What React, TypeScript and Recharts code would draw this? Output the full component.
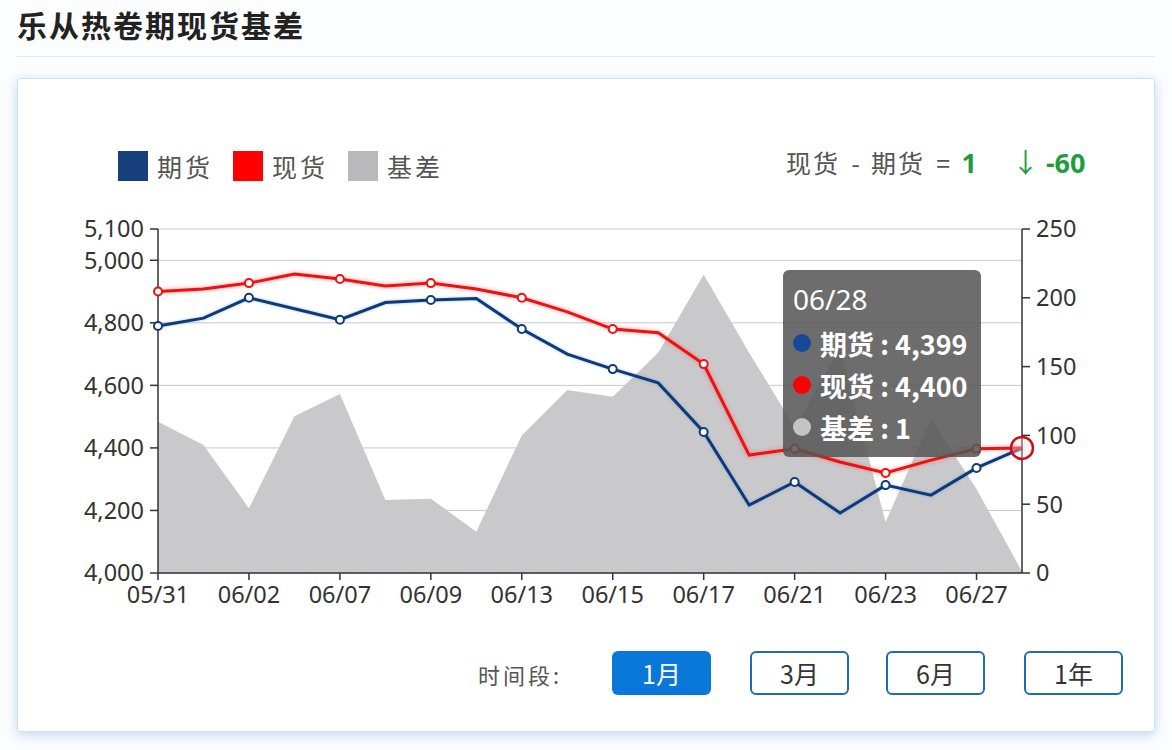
import React from "react";
import {
  ComposedChart,
  Line,
  Area,
  XAxis,
  YAxis,
  CartesianGrid,
  Tooltip,
} from "recharts";

// 2022 trading days, 乐从热卷
const dates = [
  "05/31", "06/01", "06/02", "06/06", "06/07", "06/08", "06/09", "06/10", "06/13", "06/14",
  "06/15", "06/16", "06/17", "06/20", "06/21", "06/22", "06/23", "06/24", "06/27", "06/28",
];
const futures = [
  4790, 4815, 4880, 4845, 4810, 4865, 4873, 4878, 4780, 4700,
  4652, 4608, 4451, 4217, 4291, 4192, 4281, 4249, 4336, 4399,
];
const spot = [
  4900, 4908, 4927, 4956, 4940, 4918, 4927, 4908, 4880, 4835,
  4780, 4768, 4668, 4377, 4397, 4355, 4320, 4361, 4397, 4400,
];
const basis = [
  110, 93, 47, 114, 130, 53, 54, 30, 100, 133,
  128, 160, 217, 160, 106, 163, 37, 112, 61, 1,
];
const leftTicks = [4000, 4200, 4400, 4600, 4800, 5000, 5100];
const rightTicks = [0, 50, 100, 150, 200, 250];
const periods = ["1月", "3月", "6月", "1年"];

const BLUE = "#0f3a78";
const RED = "#ee1111";
const GRAY = "#c9c9cb";
const GREEN = "#1e9c3e";
const CJK = "'Noto Sans CJK SC', 'Noto Sans', sans-serif";
const NUM = "'Noto Sans', 'Noto Sans CJK SC', sans-serif";

const data = dates.map((d, i) => ({
  date: d,
  futures: futures[i],
  spot: spot[i],
  basis: basis[i],
}));

const fmt = (v: number) => v.toLocaleString("en-US");

const makeDot = (color: string) => (props: any) => {
  const { cx, cy, index } = props;
  if (index % 2 !== 0 || index === dates.length - 1) return <g key={`d-${index}`} />;
  return (
    <circle
      key={`d-${index}`}
      cx={cx}
      cy={cy}
      r={4}
      fill="#fff"
      stroke={color}
      strokeWidth={2}
    />
  );
};

const TipContent = ({ active, payload, label }: any) => {
  if (!active || !payload || !payload.length) return null;
  const get = (k: string) => payload.find((p: any) => p.dataKey === k)?.value;
  const rows = [
    { name: "期货", color: "#174a96", value: get("futures") },
    { name: "现货", color: "#ff0000", value: get("spot") },
    { name: "基差", color: "#c4c4c4", value: get("basis") },
  ];
  return (
    <div
      style={{
        width: 198,
        height: 187,
        boxSizing: "border-box",
        background: "rgba(85,85,85,0.86)",
        borderRadius: 6,
        padding: "12px 0 0 10px",
        color: "#fff",
        fontFamily: NUM,
      }}
    >
      <div style={{ fontSize: 28, lineHeight: "34px", marginBottom: 6 }}>{label}</div>
      {rows.map((r) => (
        <div
          key={r.name}
          style={{ display: "flex", alignItems: "center", height: 42 }}
        >
          <span
            style={{
              width: 18,
              height: 18,
              borderRadius: 9,
              background: r.color,
              marginRight: 9,
            }}
          />
          <span style={{ fontSize: 27, fontWeight: 700, fontFamily: CJK }}>
            {r.name} : {fmt(r.value)}
          </span>
        </div>
      ))}
    </div>
  );
};

export default function App() {
  const tickStyle = { fontSize: 23.5, fill: "#333", fontFamily: NUM };
  return (
    <div
      style={{
        position: "absolute",
        left: 0,
        top: 0,
        width: 1172,
        height: 750,
        background: "#fcfdfe",
        overflow: "hidden",
        fontFamily: CJK,
      }}
    >
      <style>{`.spot-line path.recharts-curve{filter:drop-shadow(0 0 2px rgba(255,60,60,0.55));}
.fut-line path.recharts-curve{filter:drop-shadow(0 0 1.5px rgba(80,140,220,0.5));}`}</style>
      <div
        style={{
          position: "absolute",
          left: 17,
          top: 2,
          fontSize: 30,
          fontWeight: 700,
          color: "#222",
          letterSpacing: 2,
        }}
      >
        乐从热卷期现货基差
      </div>
      <div
        style={{
          position: "absolute",
          left: 17,
          top: 56,
          width: 1138,
          height: 1,
          background: "#e6ebf1",
        }}
      />
      <div
        style={{
          position: "absolute",
          left: 17,
          top: 78,
          width: 1136,
          height: 652,
          background: "#fff",
          border: "1px solid #cfe1f4",
          borderRadius: 3,
          boxShadow: "0 3px 12px rgba(120,170,225,0.45)",
        }}
      />

      {/* legend */}
      <div
        style={{
          position: "absolute",
          left: 118,
          top: 148,
          display: "flex",
          alignItems: "center",
          fontSize: 25,
          color: "#555",
        }}
      >
        {[
          { n: "期货", c: "#173f7c" },
          { n: "现货", c: "#ff0000" },
          { n: "基差", c: "#b9b9bb" },
        ].map((l) => (
          <div key={l.n} style={{ display: "flex", alignItems: "center", marginRight: 20 }}>
            <span style={{ width: 30, height: 30, background: l.c, marginRight: 9 }} />
            <span style={{ letterSpacing: 3 }}>{l.n}</span>
          </div>
        ))}
      </div>
      <div
        style={{
          position: "absolute",
          left: 786,
          top: 143,
          fontSize: 25,
          color: "#555",
          whiteSpace: "pre",
          lineHeight: "38px",
        }}
      >
        <span style={{ letterSpacing: 2 }}>现货</span>
        {"  -  "}
        <span style={{ letterSpacing: 2 }}>期货</span>
        {"  =  "}
        <span style={{ color: GREEN, fontWeight: 700, fontFamily: NUM, fontSize: 27 }}>
          {fmt(basis[19])}
        </span>
        <span style={{ color: GREEN, fontFamily: NUM, fontSize: 27 }}>{"     ↓ "}</span>
        <span style={{ color: GREEN, fontWeight: 700, fontFamily: NUM, fontSize: 27 }}>
          {basis[19] - basis[18]}
        </span>
      </div>

      <div style={{ position: "absolute", left: 0, top: 0 }}>
        <ComposedChart
          width={1172}
          height={750}
          data={data}
          margin={{ top: 229, right: 90, bottom: 147, left: 98 }}
        >
          <CartesianGrid
            yAxisId="left"
            vertical={false}
            stroke="#c8c8c8"
            strokeWidth={1}
          />
          <XAxis
            dataKey="date"
            interval={1}
            height={30}
            tickSize={7}
            tickMargin={6}
            axisLine={{ stroke: "#333", strokeWidth: 1.5 }}
            tickLine={{ stroke: "#333", strokeWidth: 1.5 }}
            tick={tickStyle}
          />
          <YAxis
            yAxisId="left"
            orientation="left"
            width={60}
            domain={[4000, 5100]}
            ticks={leftTicks}
            interval={0}
            tickFormatter={fmt}
            tickSize={8}
            tickMargin={6}
            axisLine={{ stroke: "#333", strokeWidth: 1.5 }}
            tickLine={{ stroke: "#333", strokeWidth: 1.5 }}
            tick={tickStyle}
          />
          <YAxis
            yAxisId="right"
            orientation="right"
            width={60}
            domain={[0, 250]}
            ticks={rightTicks}
            interval={0}
            tickSize={8}
            tickMargin={6}
            axisLine={{ stroke: "#333", strokeWidth: 1.5 }}
            tickLine={{ stroke: "#333", strokeWidth: 1.5 }}
            tick={tickStyle}
          />
          <Area
            yAxisId="right"
            dataKey="basis"
            type="linear"
            fill={GRAY}
            fillOpacity={1}
            stroke="none"
            activeDot={false}
            isAnimationActive={false}
          />
          <Line
            yAxisId="left"
            dataKey="futures"
            type="linear"
            className="fut-line"
            stroke={BLUE}
            strokeWidth={3}
            dot={makeDot(BLUE)}
            activeDot={false}
            isAnimationActive={false}
          />
          <Line
            yAxisId="left"
            dataKey="spot"
            type="linear"
            className="spot-line"
            stroke={RED}
            strokeWidth={3}
            dot={makeDot(RED)}
            activeDot={{ r: 11, fill: "rgba(255,220,220,0.35)", stroke: "#c8101a", strokeWidth: 2.5 }}
            isAnimationActive={false}
          />
          <Tooltip
            active
            defaultIndex={19}
            cursor={false}
            position={{ x: 783, y: 270 }}
            content={<TipContent />}
            isAnimationActive={false}
            wrapperStyle={{ outline: "none" }}
          />
        </ComposedChart>
      </div>

      {/* period selector */}
      <div
        style={{
          position: "absolute",
          left: 478,
          top: 659,
          fontSize: 22,
          color: "#555",
          lineHeight: "30px",
          letterSpacing: 3,
        }}
      >
        时间段:
      </div>
      {periods.map((p, i) => (
        <div
          key={p}
          style={{
            position: "absolute",
            left: [612, 750, 886, 1024][i],
            top: 651,
            width: 99,
            height: 44,
            boxSizing: "border-box",
            borderRadius: 6,
            border: i === 0 ? "none" : "2px solid #1f6cb5",
            background: i === 0 ? "#0a78d8" : "#fff",
            color: i === 0 ? "#fff" : "#333",
            fontSize: 25,
            display: "flex",
            alignItems: "center",
            justifyContent: "center",
          }}
        >
          {p}
        </div>
      ))}
    </div>
  );
}
